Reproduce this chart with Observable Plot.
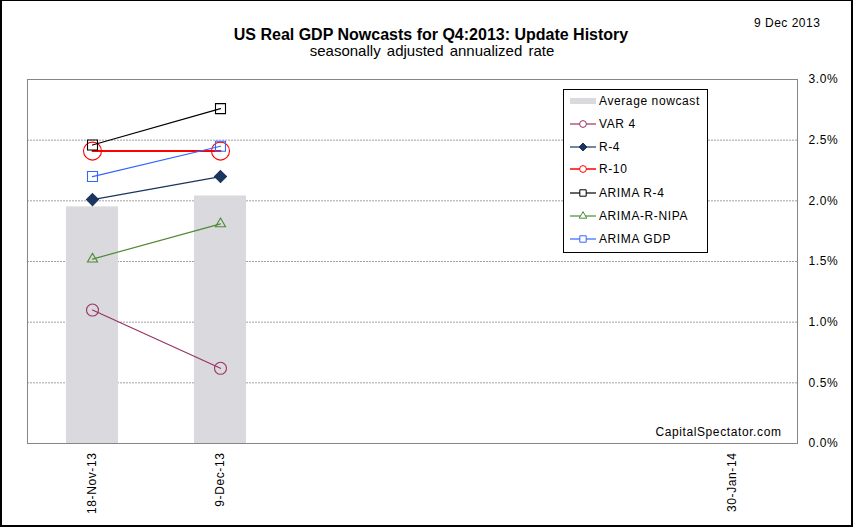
<!DOCTYPE html>
<html><head><meta charset="utf-8">
<script src="https://cdn.jsdelivr.net/npm/d3@7"></script>
<script src="https://cdn.jsdelivr.net/npm/@observablehq/plot@0.6"></script>
<style>
body{margin:0;background:#fff;}
#wrap{position:relative;width:853px;height:527px;overflow:hidden;font-family:"Liberation Sans",Arial,sans-serif;color:#000;background:#fff;}
#wrap svg text{letter-spacing:0.6px;}
#chart{position:absolute;left:0;top:0;}
.t{position:absolute;white-space:nowrap;line-height:1;}
#border{position:absolute;left:0;top:0;width:853px;height:527px;box-sizing:border-box;border:2px solid #000;border-top-width:1px;pointer-events:none;}
#legend{position:absolute;left:563px;top:89px;width:145px;height:164px;box-sizing:border-box;border:1px solid #000;background:#fff;}
.lrow{position:absolute;left:0;height:14px;}
.lrow svg{position:absolute;left:6px;top:0;}
.lrow span{position:absolute;left:35px;top:1px;font-size:12px;line-height:12px;letter-spacing:0.6px;white-space:nowrap;}
</style></head><body>
<div id="wrap">
  <div id="chart"></div>
  <div class="t" id="title" style="left:431px;top:26.5px;font-size:16px;font-weight:bold;transform:translateX(-50%);"></div>
  <div class="t" id="subtitle" style="left:432px;top:43.3px;font-size:15px;word-spacing:2px;transform:translateX(-50%);"></div>
  <div class="t" id="date" style="left:754px;top:16.5px;font-size:12px;letter-spacing:0.5px;"></div>
  <div id="legend"></div>
  <div id="border"></div>
</div>
<script>
// ---- data ----
const titleText = "US Real GDP Nowcasts for Q4:2013: Update History";
const subtitleText = "seasonally adjusted annualized rate";
const dateText = "9 Dec 2013";
const sourceText = "CapitalSpectator.com";

const xCategories = ["18-Nov-13", "9-Dec-13", " ", "  ", "   ", "30-Jan-14"];
const dates = ["18-Nov-13", "9-Dec-13"];
const yTicks = [0, 0.5, 1.0, 1.5, 2.0, 2.5, 3.0];

const averageNowcast = [1.95, 2.04];
const var4 = [1.10, 0.62];
const r4 = [2.01, 2.20];
const r10 = [2.41, 2.41];
const arimaR4 = [2.46, 2.76];
const arimaRNipa = [1.52, 1.81];
const arimaGdp = [2.20, 2.45];

const seriesNames = ["VAR 4", "R-4", "R-10", "ARIMA R-4", "ARIMA-R-NIPA", "ARIMA GDP"];
const seriesValues = [var4, r4, r10, arimaR4, arimaRNipa, arimaGdp];

// ---- styles ----
const seriesStyle = {
  "VAR 4":        {color: "#993366", symbol: "circle",    r: 6,    fill: "none",    lw: 1.2},
  "R-4":          {color: "#1c3560", symbol: "diamond2",  r: 5.4,  fill: "#1c3560", lw: 1.4},
  "R-10":         {color: "#ff0000", symbol: "circle",    r: 9,    fill: "none",    lw: 2},
  "ARIMA R-4":    {color: "#000000", symbol: "square",    r: 5.64, fill: "none",    lw: 1.2},
  "ARIMA-R-NIPA": {color: "#4f8a34", symbol: "triangle2", r: 4.8,  fill: "none",    lw: 1.2},
  "ARIMA GDP":    {color: "#3366ff", symbol: "square",    r: 5.64, fill: "none",    lw: 1.2}
};
const barFill = "#d9d9de";

const barRows = dates.map((d, j) => ({date: d, value: averageNowcast[j]}));
const rows = seriesNames.flatMap((name, i) => dates.map((d, j) => ({series: name, date: d, value: seriesValues[i][j]})));

const seriesMarks = seriesNames.flatMap(name => {
  const s = seriesStyle[name];
  const data = rows.filter(r => r.series === name);
  return [
    Plot.line(data, {x: "date", y: "value", stroke: s.color, strokeWidth: s.lw}),
    Plot.dot(data, {x: "date", y: "value", symbol: () => s.symbol, r: s.r, stroke: s.color, fill: s.fill, strokeWidth: 1.1})
  ];
});

const chart = Plot.plot({
  width: 853,
  height: 527,
  marginLeft: 27,
  marginRight: 56,
  marginTop: 79,
  marginBottom: 84,
  style: {fontFamily: "'Liberation Sans', Arial, sans-serif", fontSize: "12px", color: "#000", background: "transparent"},
  x: {type: "band", domain: xCategories, paddingInner: 0.595, paddingOuter: 0.2975},
  y: {domain: [0, 3]},
  symbol: {type: "identity"},
  marks: [
    Plot.ruleY(yTicks.filter(t => t > 0 && t < 3), {stroke: "#a0a0a0", strokeDasharray: "2,1"}),
    Plot.barY(barRows, {x: "date", y: "value", fill: barFill}),
    ...seriesMarks,
    Plot.frame({stroke: "#868686"}),
    Plot.axisY({anchor: "right", ticks: yTicks, tickFormat: d => d.toFixed(1) + "%", tickSize: 0, tickPadding: 11, fontSize: 12, label: null}),
    Plot.axisX({tickRotate: -90, tickSize: 0, tickPadding: 9, tickFormat: d => d.trim(), fontSize: 12, label: null}),
    Plot.text([sourceText], {text: d => d, frameAnchor: "bottom-right", dx: -16, dy: -8, fontSize: 12, fill: "#000"})
  ]
});
document.getElementById("chart").appendChild(chart);

document.getElementById("title").textContent = titleText;
document.getElementById("subtitle").textContent = subtitleText;
document.getElementById("date").textContent = dateText;

// ---- legend ----
const legend = d3.select("#legend");
const rowCenters = [11.7, 35, 58.3, 80.3, 104.3, 127, 150.3];
const legendItems = [{name: "Average nowcast", bar: true}, ...seriesNames.map(n => ({name: n}))];
const legendSym = {circle: d3.symbolCircle, diamond2: d3.symbolDiamond2, square: d3.symbolSquare, triangle2: d3.symbolTriangle2};
legendItems.forEach((item, i) => {
  const row = legend.append("div").attr("class", "lrow").style("top", (rowCenters[i] - 7 - 1) + "px").style("width", "143px");
  const svg = row.append("svg").attr("width", 27).attr("height", 14);
  if (item.bar) {
    svg.append("rect").attr("x", 0).attr("y", 4).attr("width", 26).attr("height", 6).attr("fill", barFill);
  } else {
    const s = seriesStyle[item.name];
    svg.append("line").attr("x1", 0).attr("x2", 26).attr("y1", 7).attr("y2", 7).attr("stroke", s.color).attr("stroke-width", s.lw > 1.5 ? 1.5 : 1.2);
    const lr = s.symbol === "square" ? 3.6 : (s.symbol === "circle" ? 3.4 : 3.6);
    svg.append("path").attr("transform", "translate(13,7)")
      .attr("d", d3.symbol(legendSym[s.symbol], lr * lr * Math.PI)())
      .attr("fill", s.fill === "none" ? "#fff" : s.fill).attr("stroke", s.color).attr("stroke-width", 1);
  }
  row.append("span").text(item.name);
});
</script>
</body></html>
